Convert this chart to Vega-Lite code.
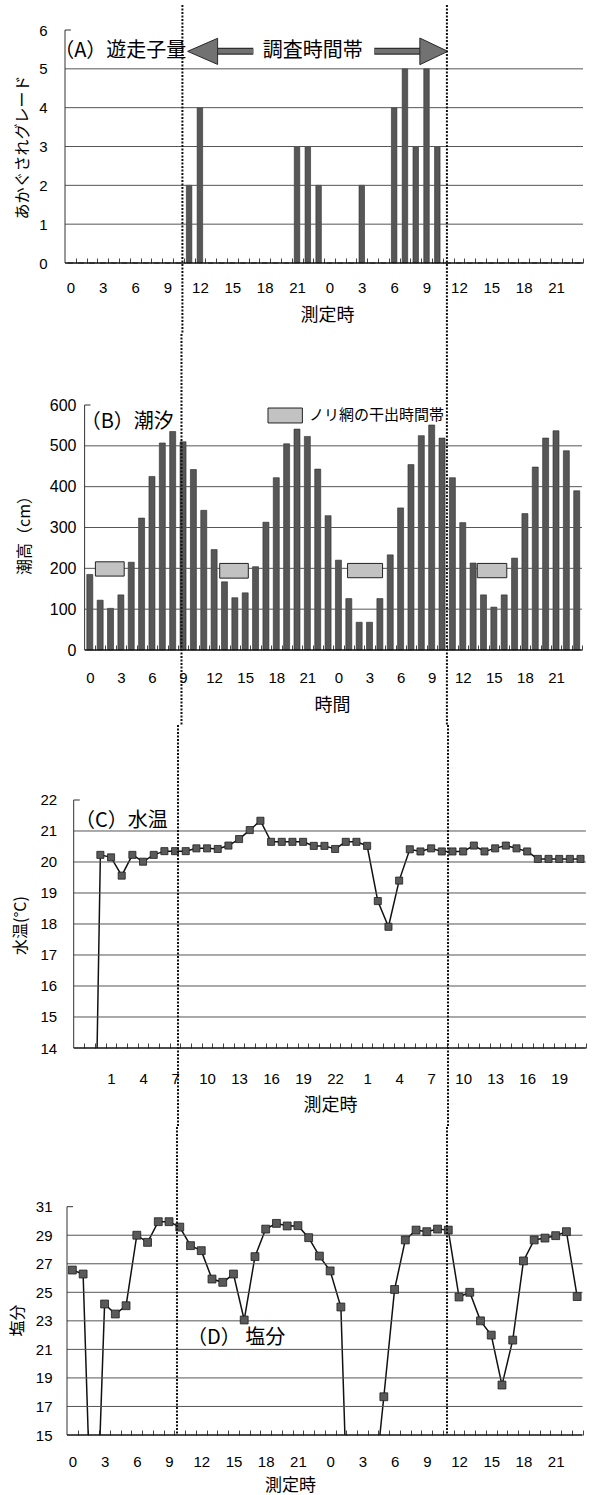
{
"$schema": "https://vega.github.io/schema/vega-lite/v6.json",
"padding": {"left": 9, "top": 3, "right": 0, "bottom": 8},
"background": "white",
"bounds": "flush",
"spacing": 142,
"config": {
  "view": {"stroke": null},
  "axis": {"labelFont": "Liberation Sans", "labelFontSize": 15, "labelColor": "#000", "titleFont": "Noto Sans CJK JP", "titleFontSize": 16, "titleFontWeight": "normal", "titleColor": "#000", "domain": false, "grid": false},
  "text": {"font": "Noto Sans CJK JP", "color": "#000"}
},
"datasets": {
  "tA": [{"h":0,"v":0},{"h":1,"v":0},{"h":2,"v":0},{"h":3,"v":0},{"h":4,"v":0},{"h":5,"v":0},{"h":6,"v":0},{"h":7,"v":0},{"h":8,"v":0},{"h":9,"v":0},{"h":10,"v":0},{"h":11,"v":2},{"h":12,"v":4},{"h":13,"v":0},{"h":14,"v":0},{"h":15,"v":0},{"h":16,"v":0},{"h":17,"v":0},{"h":18,"v":0},{"h":19,"v":0},{"h":20,"v":0},{"h":21,"v":3},{"h":22,"v":3},{"h":23,"v":2},{"h":24,"v":0},{"h":25,"v":0},{"h":26,"v":0},{"h":27,"v":2},{"h":28,"v":0},{"h":29,"v":0},{"h":30,"v":4},{"h":31,"v":5},{"h":32,"v":3},{"h":33,"v":5},{"h":34,"v":3},{"h":35,"v":0},{"h":36,"v":0},{"h":37,"v":0},{"h":38,"v":0},{"h":39,"v":0},{"h":40,"v":0},{"h":41,"v":0},{"h":42,"v":0},{"h":43,"v":0},{"h":44,"v":0},{"h":45,"v":0},{"h":46,"v":0},{"h":47,"v":0}],
  "tB": [{"h":0,"v":185},{"h":1,"v":122},{"h":2,"v":102},{"h":3,"v":135},{"h":4,"v":215},{"h":5,"v":323},{"h":6,"v":425},{"h":7,"v":507},{"h":8,"v":535},{"h":9,"v":510},{"h":10,"v":442},{"h":11,"v":342},{"h":12,"v":246},{"h":13,"v":167},{"h":14,"v":128},{"h":15,"v":140},{"h":16,"v":204},{"h":17,"v":313},{"h":18,"v":422},{"h":19,"v":505},{"h":20,"v":541},{"h":21,"v":523},{"h":22,"v":443},{"h":23,"v":329},{"h":24,"v":220},{"h":25,"v":126},{"h":26,"v":68},{"h":27,"v":68},{"h":28,"v":126},{"h":29,"v":233},{"h":30,"v":348},{"h":31,"v":454},{"h":32,"v":525},{"h":33,"v":551},{"h":34,"v":519},{"h":35,"v":422},{"h":36,"v":312},{"h":37,"v":213},{"h":38,"v":135},{"h":39,"v":105},{"h":40,"v":135},{"h":41,"v":225},{"h":42,"v":334},{"h":43,"v":448},{"h":44,"v":519},{"h":45,"v":537},{"h":46,"v":488},{"h":47,"v":390}],
  "tExp": [{"start":0.54,"end":3.32,"lo":181,"hi":216},{"start":12.54,"end":15.3,"lo":176,"hi":212},{"start":24.88,"end":28.26,"lo":177,"hi":212},{"start":37.4,"end":40.25,"lo":177,"hi":212}],
  "tC": [{"h":-1,"v":0},{"h":0,"v":20.23},{"h":1,"v":20.15},{"h":2,"v":19.56},{"h":3,"v":20.23},{"h":4,"v":20.01},{"h":5,"v":20.23},{"h":6,"v":20.35},{"h":7,"v":20.35},{"h":8,"v":20.35},{"h":9,"v":20.44},{"h":10,"v":20.44},{"h":11,"v":20.42},{"h":12,"v":20.53},{"h":13,"v":20.74},{"h":14,"v":21.03},{"h":15,"v":21.33},{"h":16,"v":20.65},{"h":17,"v":20.65},{"h":18,"v":20.65},{"h":19,"v":20.65},{"h":20,"v":20.52},{"h":21,"v":20.52},{"h":22,"v":20.42},{"h":23,"v":20.65},{"h":24,"v":20.65},{"h":25,"v":20.52},{"h":26,"v":18.74},{"h":27,"v":17.91},{"h":28,"v":19.4},{"h":29,"v":20.41},{"h":30,"v":20.34},{"h":31,"v":20.44},{"h":32,"v":20.34},{"h":33,"v":20.34},{"h":34,"v":20.34},{"h":35,"v":20.53},{"h":36,"v":20.34},{"h":37,"v":20.44},{"h":38,"v":20.53},{"h":39,"v":20.44},{"h":40,"v":20.34},{"h":41,"v":20.1},{"h":42,"v":20.1},{"h":43,"v":20.1},{"h":44,"v":20.1},{"h":45,"v":20.1}],
  "tD": [{"h":0,"v":26.56},{"h":1,"v":26.28},{"h":2,"v":2.5},{"h":3,"v":24.18},{"h":4,"v":23.48},{"h":5,"v":24.06},{"h":6,"v":29.0},{"h":7,"v":28.5},{"h":8,"v":29.95},{"h":9,"v":29.95},{"h":10,"v":29.57},{"h":11,"v":28.27},{"h":12,"v":27.92},{"h":13,"v":25.93},{"h":14,"v":25.7},{"h":15,"v":26.28},{"h":16,"v":23.06},{"h":17,"v":27.5},{"h":18,"v":29.43},{"h":19,"v":29.83},{"h":20,"v":29.65},{"h":21,"v":29.67},{"h":22,"v":28.83},{"h":23,"v":27.54},{"h":24,"v":26.5},{"h":25,"v":23.97},{"h":26,"v":0},{"h":27,"v":3},{"h":28,"v":10.4},{"h":29,"v":17.68},{"h":30,"v":25.2},{"h":31,"v":28.67},{"h":32,"v":29.36},{"h":33,"v":29.25},{"h":34,"v":29.43},{"h":35,"v":29.36},{"h":36,"v":24.67},{"h":37,"v":25.0},{"h":38,"v":23.0},{"h":39,"v":22.0},{"h":40,"v":18.5},{"h":41,"v":21.65},{"h":42,"v":27.2},{"h":43,"v":28.67},{"h":44,"v":28.8},{"h":45,"v":28.97},{"h":46,"v":29.25},{"h":47,"v":24.7}]
},
"vconcat": [
{
  "width": 528, "height": 233,
  "resolve": {"axis": {"x": "independent", "y": "independent"}},
  "layer": [
    {"data": {"name": "tA"},
     "mark": {"type": "bar", "width": 5.5, "color": "#575757", "stroke": "#2b2b2b", "strokeWidth": 0.6},
     "encoding": {
       "x": {"field": "h", "type": "quantitative", "scale": {"domain": [-0.5, 47.5], "nice": false, "zero": false},
             "axis": {"values": [0,1,2,3,4,5,6,7,8,9,10,11,12,13,14,15,16,17,18,19,20,21,22,23,24,25,26,27,28,29,30,31,32,33,34,35,36,37,38,39,40,41,42,43,44,45,46,47],
                      "orient": "bottom",
                      "labelExpr": "datum.value % 3 == 0 ? '' + (datum.value % 24) : ''",
                      "ticks": true, "tickSize": -5, "tickColor": "#444", "tickWidth": 1, "tickOffset": 5.5, "labelOffset": -5.5,
                      "labelOverlap": false, "labelFlush": false, "labelBaseline": "middle", "labelPadding": 29.5,
                      "title": "測定時", "titleFontSize": 18, "titleX": 267, "titleY": 52, "titleBaseline": "middle", "titleAlign": "center", "titleAngle": 0}},
       "y": {"field": "v", "type": "quantitative", "scale": {"domain": [0, 6], "nice": false, "zero": false},
             "axis": {"values": [0,1,2,3,4,5,6], "orient": "left", "ticks": false, "tickSize": 0, "labelPadding": 13, "labelFlush": false,
                      "title": "あかぐされグレード", "titleX": -38, "titleY": 117, "titleAngle": 270, "titleBaseline": "middle", "titleAlign": "center"}}}},
    {"data": {"values": [{"v":1},{"v":2},{"v":3},{"v":4},{"v":5}]},
     "mark": {"type": "rule", "color": "#555", "strokeWidth": 1},
     "encoding": {"x": {"datum": -0.5, "type": "quantitative", "scale": {"domain": [-0.5, 47.5], "nice": false, "zero": false}, "axis": null}, "x2": {"datum": 47.5},
                  "y": {"field": "v", "type": "quantitative", "scale": {"domain": [0, 6], "nice": false, "zero": false}, "axis": null}}},
    {"data": {"values": [{}]},
     "mark": {"type": "rule", "color": "#111", "strokeWidth": 1.5},
     "encoding": {"x": {"datum": -0.5, "type": "quantitative", "scale": {"domain": [-0.5, 47.5], "nice": false, "zero": false}, "axis": null}, "x2": {"datum": 47.5},
                  "y": {"datum": 0, "type": "quantitative", "scale": {"domain": [0, 6], "nice": false, "zero": false}, "axis": null}}},
    {"data": {"values": [{}]},
     "mark": {"type": "rule", "color": "#333", "strokeWidth": 1},
     "encoding": {"x": {"datum": -0.5, "type": "quantitative", "scale": {"domain": [-0.5, 47.5], "nice": false, "zero": false}, "axis": null},
                  "y": {"datum": 0, "type": "quantitative", "scale": {"domain": [0, 6], "nice": false, "zero": false}, "axis": null}, "y2": {"datum": 6}}},
    {"data": {"values": [{}]},
     "mark": {"type": "rule", "color": "#333", "strokeWidth": 1},
     "encoding": {"x": {"datum": -0.5, "type": "quantitative", "scale": {"domain": [-0.5, 47.5], "nice": false, "zero": false}, "axis": null}, "x2": {"datum": 0.05},
                  "y": {"datum": 6, "type": "quantitative", "scale": {"domain": [0, 6], "nice": false, "zero": false}, "axis": null}}},
    {"data": {"values": [{}]},
     "mark": {"type": "text", "text": "（A）遊走子量", "fontSize": 20, "align": "left", "baseline": "middle"},
     "encoding": {"x": {"datum": -1.5, "type": "quantitative", "scale": {"domain": [-0.5, 47.5], "nice": false, "zero": false}, "axis": null},
                  "y": {"datum": 5.46, "type": "quantitative", "scale": {"domain": [0, 6], "nice": false, "zero": false}, "axis": null}}},
    {"data": {"values": [{}]},
     "mark": {"type": "text", "text": "調査時間帯", "fontSize": 20, "align": "center", "baseline": "middle"},
     "encoding": {"x": {"datum": 22.45, "type": "quantitative", "scale": {"domain": [-0.5, 47.5], "nice": false, "zero": false}, "axis": null},
                  "y": {"datum": 5.46, "type": "quantitative", "scale": {"domain": [0, 6], "nice": false, "zero": false}, "axis": null}}},
    {"data": {"values": [{"a": 13.5, "b": 16.95}, {"a": 28.16, "b": 32.5}]},
     "mark": {"type": "rule", "color": "#2e2e2e", "strokeWidth": 7},
     "encoding": {"x": {"field": "a", "type": "quantitative", "scale": {"domain": [-0.5, 47.5], "nice": false, "zero": false}, "axis": null}, "x2": {"field": "b"},
                  "y": {"datum": 5.45, "type": "quantitative", "scale": {"domain": [0, 6], "nice": false, "zero": false}, "axis": null}}},
    {"data": {"values": [{"a": 13.5, "b": 16.95}, {"a": 28.16, "b": 32.5}]},
     "mark": {"type": "rule", "color": "#727272", "strokeWidth": 4.5},
     "encoding": {"x": {"field": "a", "type": "quantitative", "scale": {"domain": [-0.5, 47.5], "nice": false, "zero": false}, "axis": null}, "x2": {"field": "b"},
                  "y": {"datum": 5.45, "type": "quantitative", "scale": {"domain": [0, 6], "nice": false, "zero": false}, "axis": null}}},
    {"data": {"values": [{}]},
     "mark": {"type": "point", "shape": "M-1,0L1,-0.87L1,0.87Z", "size": 900, "filled": true, "color": "#727272", "stroke": "#2a2a2a", "strokeWidth": 1, "opacity": 1},
     "encoding": {"x": {"datum": 12.25, "type": "quantitative", "scale": {"domain": [-0.5, 47.5], "nice": false, "zero": false}, "axis": null},
                  "y": {"datum": 5.45, "type": "quantitative", "scale": {"domain": [0, 6], "nice": false, "zero": false}, "axis": null}}},
    {"data": {"values": [{}]},
     "mark": {"type": "point", "shape": "M1,0L-1,-0.95L-1,0.95Z", "size": 784, "filled": true, "color": "#727272", "stroke": "#2a2a2a", "strokeWidth": 1, "opacity": 1},
     "encoding": {"x": {"datum": 33.68, "type": "quantitative", "scale": {"domain": [-0.5, 47.5], "nice": false, "zero": false}, "axis": null},
                  "y": {"datum": 5.45, "type": "quantitative", "scale": {"domain": [0, 6], "nice": false, "zero": false}, "axis": null}}},
    {"data": {"values": [{"t": 10.38}, {"t": 34.89}]},
     "mark": {"type": "rule", "color": "#111", "strokeWidth": 2, "strokeDash": [2, 1.5], "clip": false},
     "encoding": {"x": {"field": "t", "type": "quantitative", "scale": {"domain": [-0.5, 47.5], "nice": false, "zero": false}, "axis": null},
                  "y": {"datum": 6.644, "type": "quantitative", "scale": {"domain": [0, 6], "nice": false, "zero": false}, "axis": null}, "y2": {"datum": -1.828}}}
  ]
},
{
  "width": 527, "height": 245,
  "resolve": {"axis": {"x": "independent", "y": "independent"}},
  "layer": [
    {"data": {"name": "tB"},
     "mark": {"type": "bar", "width": 6, "color": "#575757", "stroke": "#2b2b2b", "strokeWidth": 0.6},
     "encoding": {
       "x": {"field": "h", "type": "quantitative", "scale": {"domain": [-2.394, 47.51], "nice": false, "zero": false},
             "axis": {"values": [0,1,2,3,4,5,6,7,8,9,10,11,12,13,14,15,16,17,18,19,20,21,22,23,24,25,26,27,28,29,30,31,32,33,34,35,36,37,38,39,40,41,42,43,44,45,46,47],
                      "orient": "bottom",
                      "labelExpr": "datum.value % 3 == 0 ? '' + (datum.value % 24) : ''",
                      "ticks": true, "tickSize": -5, "tickColor": "#444", "tickWidth": 1, "tickOffset": 5.28, "labelOffset": -5.28,
                      "labelOverlap": false, "labelFlush": false, "labelBaseline": "middle", "labelPadding": 32,
                      "title": "時間", "titleFontSize": 18, "titleX": 272, "titleY": 55, "titleBaseline": "middle", "titleAlign": "center", "titleAngle": 0}},
       "y": {"field": "v", "type": "quantitative", "scale": {"domain": [0, 600], "nice": false, "zero": false},
             "axis": {"values": [0,100,200,300,400,500,600], "orient": "left", "offset": -20, "ticks": false, "tickSize": 0, "labelPadding": 4, "labelFontSize": 16, "labelFlush": false,
                      "title": "潮高（cm）", "titleX": -56, "titleY": 126, "titleAngle": 270, "titleBaseline": "middle", "titleAlign": "center"}}}},
    {"data": {"values": [{"v":100},{"v":200},{"v":300},{"v":400},{"v":500}]},
     "mark": {"type": "rule", "color": "#555", "strokeWidth": 1},
     "encoding": {"x": {"datum": -0.5, "type": "quantitative", "scale": {"domain": [-2.394, 47.51], "nice": false, "zero": false}, "axis": null}, "x2": {"datum": 47.5},
                  "y": {"field": "v", "type": "quantitative", "scale": {"domain": [0, 600], "nice": false, "zero": false}, "axis": null}}},
    {"data": {"values": [{}]},
     "mark": {"type": "rule", "color": "#111", "strokeWidth": 1.5},
     "encoding": {"x": {"datum": -0.5, "type": "quantitative", "scale": {"domain": [-2.394, 47.51], "nice": false, "zero": false}, "axis": null}, "x2": {"datum": 47.5},
                  "y": {"datum": 0, "type": "quantitative", "scale": {"domain": [0, 600], "nice": false, "zero": false}, "axis": null}}},
    {"data": {"values": [{}]},
     "mark": {"type": "rule", "color": "#333", "strokeWidth": 1},
     "encoding": {"x": {"datum": -0.5, "type": "quantitative", "scale": {"domain": [-2.394, 47.51], "nice": false, "zero": false}, "axis": null},
                  "y": {"datum": 0, "type": "quantitative", "scale": {"domain": [0, 600], "nice": false, "zero": false}, "axis": null}, "y2": {"datum": 600}}},
    {"data": {"values": [{}]},
     "mark": {"type": "rule", "color": "#333", "strokeWidth": 1},
     "encoding": {"x": {"datum": -0.5, "type": "quantitative", "scale": {"domain": [-2.394, 47.51], "nice": false, "zero": false}, "axis": null}, "x2": {"datum": 0.07},
                  "y": {"datum": 600, "type": "quantitative", "scale": {"domain": [0, 600], "nice": false, "zero": false}, "axis": null}}},
    {"data": {"name": "tExp"},
     "mark": {"type": "rect", "color": "#c2c2c2", "stroke": "#222", "strokeWidth": 1},
     "encoding": {"x": {"field": "start", "type": "quantitative", "scale": {"domain": [-2.394, 47.51], "nice": false, "zero": false}, "axis": null}, "x2": {"field": "end"},
                  "y": {"field": "lo", "type": "quantitative", "scale": {"domain": [0, 600], "nice": false, "zero": false}, "axis": null}, "y2": {"field": "hi"}}},
    {"data": {"values": [{}]},
     "mark": {"type": "rect", "color": "#c2c2c2", "stroke": "#222", "strokeWidth": 1},
     "encoding": {"x": {"datum": 17.2, "type": "quantitative", "scale": {"domain": [-2.394, 47.51], "nice": false, "zero": false}, "axis": null}, "x2": {"datum": 20.52},
                  "y": {"datum": 556, "type": "quantitative", "scale": {"domain": [0, 600], "nice": false, "zero": false}, "axis": null}, "y2": {"datum": 592.6}}},
    {"data": {"values": [{}]},
     "mark": {"type": "text", "text": "ノリ網の干出時間帯", "fontSize": 15, "align": "left", "baseline": "middle"},
     "encoding": {"x": {"datum": 21.16, "type": "quantitative", "scale": {"domain": [-2.394, 47.51], "nice": false, "zero": false}, "axis": null},
                  "y": {"datum": 574.3, "type": "quantitative", "scale": {"domain": [0, 600], "nice": false, "zero": false}, "axis": null}}},
    {"data": {"values": [{}]},
     "mark": {"type": "text", "text": "（B）潮汐", "fontSize": 20, "align": "left", "baseline": "middle"},
     "encoding": {"x": {"datum": -0.88, "type": "quantitative", "scale": {"domain": [-2.394, 47.51], "nice": false, "zero": false}, "axis": null},
                  "y": {"datum": 558, "type": "quantitative", "scale": {"domain": [0, 600], "nice": false, "zero": false}, "axis": null}}},
    {"data": {"values": [{"t": 8.85}, {"t": 34.47}]},
     "mark": {"type": "rule", "color": "#111", "strokeWidth": 2, "strokeDash": [2, 1.5], "clip": false},
     "encoding": {"x": {"field": "t", "type": "quantitative", "scale": {"domain": [-2.394, 47.51], "nice": false, "zero": false}, "axis": null},
                  "y": {"datum": 773.9, "type": "quantitative", "scale": {"domain": [0, 600], "nice": false, "zero": false}, "axis": null}, "y2": {"datum": -183.7}}}
  ]
},
{
  "width": 526, "height": 256,
  "resolve": {"axis": {"x": "independent", "y": "independent"}},
  "layer": [
    {"data": {"name": "tC"},
     "mark": {"type": "line", "color": "#111", "strokeWidth": 1.5, "clip": true},
     "encoding": {
       "x": {"field": "h", "type": "quantitative", "scale": {"domain": [-3.784, 45.513], "nice": false, "zero": false},
             "axis": {"values": [-2,-1,0,1,2,3,4,5,6,7,8,9,10,11,12,13,14,15,16,17,18,19,20,21,22,23,24,25,26,27,28,29,30,31,32,33,34,35,36,37,38,39,40,41,42,43,44,45],
                      "orient": "bottom",
                      "labelExpr": "datum.value >= 0 && datum.value % 3 == 1 ? '' + (datum.value % 24) : ''",
                      "ticks": true, "tickSize": -5, "tickColor": "#444", "tickWidth": 1, "tickOffset": 5.33, "labelOffset": -5.33,
                      "labelOverlap": false, "labelFlush": false, "labelBaseline": "middle", "labelPadding": 35,
                      "title": "測定時", "titleFontSize": 18, "titleX": 270, "titleY": 57, "titleBaseline": "middle", "titleAlign": "center", "titleAngle": 0}},
       "y": {"field": "v", "type": "quantitative", "scale": {"domain": [14, 22.258], "nice": false, "zero": false},
             "axis": {"values": [14,15,16,17,18,19,20,21,22], "orient": "left", "offset": -13.7, "ticks": false, "tickSize": 0, "labelPadding": 17, "labelFlush": false,
                      "title": "水温(°C)", "titleX": -52.7, "titleY": 133, "titleAngle": 270, "titleBaseline": "middle", "titleAlign": "center"}}}},
    {"data": {"values": [{"v":15},{"v":16},{"v":17},{"v":18},{"v":19},{"v":20},{"v":21}]},
     "mark": {"type": "rule", "color": "#555", "strokeWidth": 1},
     "encoding": {"x": {"datum": -2.5, "type": "quantitative", "scale": {"domain": [-3.784, 45.513], "nice": false, "zero": false}, "axis": null}, "x2": {"datum": 45.5},
                  "y": {"field": "v", "type": "quantitative", "scale": {"domain": [14, 22.258], "nice": false, "zero": false}, "axis": null}}},
    {"data": {"values": [{}]},
     "mark": {"type": "rule", "color": "#111", "strokeWidth": 1.5},
     "encoding": {"x": {"datum": -2.5, "type": "quantitative", "scale": {"domain": [-3.784, 45.513], "nice": false, "zero": false}, "axis": null}, "x2": {"datum": 45.5},
                  "y": {"datum": 14, "type": "quantitative", "scale": {"domain": [14, 22.258], "nice": false, "zero": false}, "axis": null}}},
    {"data": {"values": [{}]},
     "mark": {"type": "rule", "color": "#333", "strokeWidth": 1},
     "encoding": {"x": {"datum": -2.5, "type": "quantitative", "scale": {"domain": [-3.784, 45.513], "nice": false, "zero": false}, "axis": null},
                  "y": {"datum": 14, "type": "quantitative", "scale": {"domain": [14, 22.258], "nice": false, "zero": false}, "axis": null}, "y2": {"datum": 22}}},
    {"data": {"values": [{}]},
     "mark": {"type": "rule", "color": "#333", "strokeWidth": 1},
     "encoding": {"x": {"datum": -2.5, "type": "quantitative", "scale": {"domain": [-3.784, 45.513], "nice": false, "zero": false}, "axis": null}, "x2": {"datum": -1.93},
                  "y": {"datum": 22, "type": "quantitative", "scale": {"domain": [14, 22.258], "nice": false, "zero": false}, "axis": null}}},
    {"data": {"name": "tC"},
     "mark": {"type": "point", "shape": "square", "filled": true, "size": 50, "color": "#5a5a5a", "stroke": "#1e1e1e", "strokeWidth": 0.8, "opacity": 1, "clip": true},
     "encoding": {"x": {"field": "h", "type": "quantitative", "scale": {"domain": [-3.784, 45.513], "nice": false, "zero": false}, "axis": null},
                  "y": {"field": "v", "type": "quantitative", "scale": {"domain": [14, 22.258], "nice": false, "zero": false}, "axis": null}}},
    {"data": {"values": [{}]},
     "mark": {"type": "text", "text": "（C）水温", "fontSize": 20, "align": "left", "baseline": "middle"},
     "encoding": {"x": {"datum": -2.38, "type": "quantitative", "scale": {"domain": [-3.784, 45.513], "nice": false, "zero": false}, "axis": null},
                  "y": {"datum": 21.32, "type": "quantitative", "scale": {"domain": [14, 22.258], "nice": false, "zero": false}, "axis": null}}},
    {"data": {"values": [{"t": 7.275}, {"t": 32.58}]},
     "mark": {"type": "rule", "color": "#111", "strokeWidth": 2, "strokeDash": [2, 1.5], "clip": false},
     "encoding": {"x": {"field": "t", "type": "quantitative", "scale": {"domain": [-3.784, 45.513], "nice": false, "zero": false}, "axis": null},
                  "y": {"datum": 24.42, "type": "quantitative", "scale": {"domain": [14, 22.258], "nice": false, "zero": false}, "axis": null}, "y2": {"datum": 11.45}}}
  ]
},
{
  "width": 522, "height": 245,
  "resolve": {"axis": {"x": "independent", "y": "independent"}},
  "layer": [
    {"data": {"name": "tD"},
     "mark": {"type": "line", "color": "#111", "strokeWidth": 1.5, "clip": true},
     "encoding": {
       "x": {"field": "h", "type": "quantitative", "scale": {"domain": [-1.152, 47.45], "nice": false, "zero": false},
             "axis": {"values": [0,1,2,3,4,5,6,7,8,9,10,11,12,13,14,15,16,17,18,19,20,21,22,23,24,25,26,27,28,29,30,31,32,33,34,35,36,37,38,39,40,41,42,43,44,45,46,47],
                      "orient": "bottom",
                      "labelExpr": "datum.value % 3 == 0 ? '' + (datum.value % 24) : ''",
                      "ticks": true, "tickSize": -5, "tickColor": "#444", "tickWidth": 1, "tickOffset": 5.37, "labelOffset": -5.37,
                      "labelOverlap": false, "labelFlush": false, "labelBaseline": "middle", "labelPadding": 31,
                      "title": "測定時", "titleFontSize": 17, "titleX": 230, "titleY": 50, "titleBaseline": "middle", "titleAlign": "center", "titleAngle": 0}},
       "y": {"field": "v", "type": "quantitative", "scale": {"domain": [15, 32.17], "nice": false, "zero": false},
             "axis": {"values": [15,17,19,21,23,25,27,29,31], "orient": "left", "offset": -7, "ticks": false, "tickSize": 0, "labelPadding": 15, "labelFlush": false,
                      "title": "塩分", "titleX": -50, "titleY": 130, "titleAngle": 270, "titleBaseline": "middle", "titleAlign": "center"}}}},
    {"data": {"values": [{"v":17},{"v":19},{"v":21},{"v":23},{"v":25},{"v":27},{"v":29}]},
     "mark": {"type": "rule", "color": "#555", "strokeWidth": 1},
     "encoding": {"x": {"datum": -0.5, "type": "quantitative", "scale": {"domain": [-1.152, 47.45], "nice": false, "zero": false}, "axis": null}, "x2": {"datum": 47.5},
                  "y": {"field": "v", "type": "quantitative", "scale": {"domain": [15, 32.17], "nice": false, "zero": false}, "axis": null}}},
    {"data": {"values": [{}]},
     "mark": {"type": "rule", "color": "#111", "strokeWidth": 1.5},
     "encoding": {"x": {"datum": -0.5, "type": "quantitative", "scale": {"domain": [-1.152, 47.45], "nice": false, "zero": false}, "axis": null}, "x2": {"datum": 47.5},
                  "y": {"datum": 15, "type": "quantitative", "scale": {"domain": [15, 32.17], "nice": false, "zero": false}, "axis": null}}},
    {"data": {"values": [{}]},
     "mark": {"type": "rule", "color": "#333", "strokeWidth": 1},
     "encoding": {"x": {"datum": -0.5, "type": "quantitative", "scale": {"domain": [-1.152, 47.45], "nice": false, "zero": false}, "axis": null},
                  "y": {"datum": 15, "type": "quantitative", "scale": {"domain": [15, 32.17], "nice": false, "zero": false}, "axis": null}, "y2": {"datum": 31}}},
    {"data": {"values": [{}]},
     "mark": {"type": "rule", "color": "#333", "strokeWidth": 1},
     "encoding": {"x": {"datum": -0.5, "type": "quantitative", "scale": {"domain": [-1.152, 47.45], "nice": false, "zero": false}, "axis": null}, "x2": {"datum": 0.06},
                  "y": {"datum": 31, "type": "quantitative", "scale": {"domain": [15, 32.17], "nice": false, "zero": false}, "axis": null}}},
    {"data": {"name": "tD"},
     "mark": {"type": "point", "shape": "square", "filled": true, "size": 62, "color": "#5a5a5a", "stroke": "#1e1e1e", "strokeWidth": 0.8, "opacity": 1, "clip": true},
     "encoding": {"x": {"field": "h", "type": "quantitative", "scale": {"domain": [-1.152, 47.45], "nice": false, "zero": false}, "axis": null},
                  "y": {"field": "v", "type": "quantitative", "scale": {"domain": [15, 32.17], "nice": false, "zero": false}, "axis": null}}},
    {"data": {"values": [{}]},
     "mark": {"type": "text", "text": "（D）  塩分", "fontSize": 20, "align": "left", "baseline": "middle"},
     "encoding": {"x": {"datum": 10.67, "type": "quantitative", "scale": {"domain": [-1.152, 47.45], "nice": false, "zero": false}, "axis": null},
                  "y": {"datum": 21.8, "type": "quantitative", "scale": {"domain": [15, 32.17], "nice": false, "zero": false}, "axis": null}}},
    {"data": {"values": [{"t": 9.74}, {"t": 34.88}]},
     "mark": {"type": "rule", "color": "#111", "strokeWidth": 2, "strokeDash": [2, 1.5], "clip": false},
     "encoding": {"x": {"field": "t", "type": "quantitative", "scale": {"domain": [-1.152, 47.45], "nice": false, "zero": false}, "axis": null},
                  "y": {"datum": 36.58, "type": "quantitative", "scale": {"domain": [15, 32.17], "nice": false, "zero": false}, "axis": null}, "y2": {"datum": 15}}}
  ]
}
]
}
